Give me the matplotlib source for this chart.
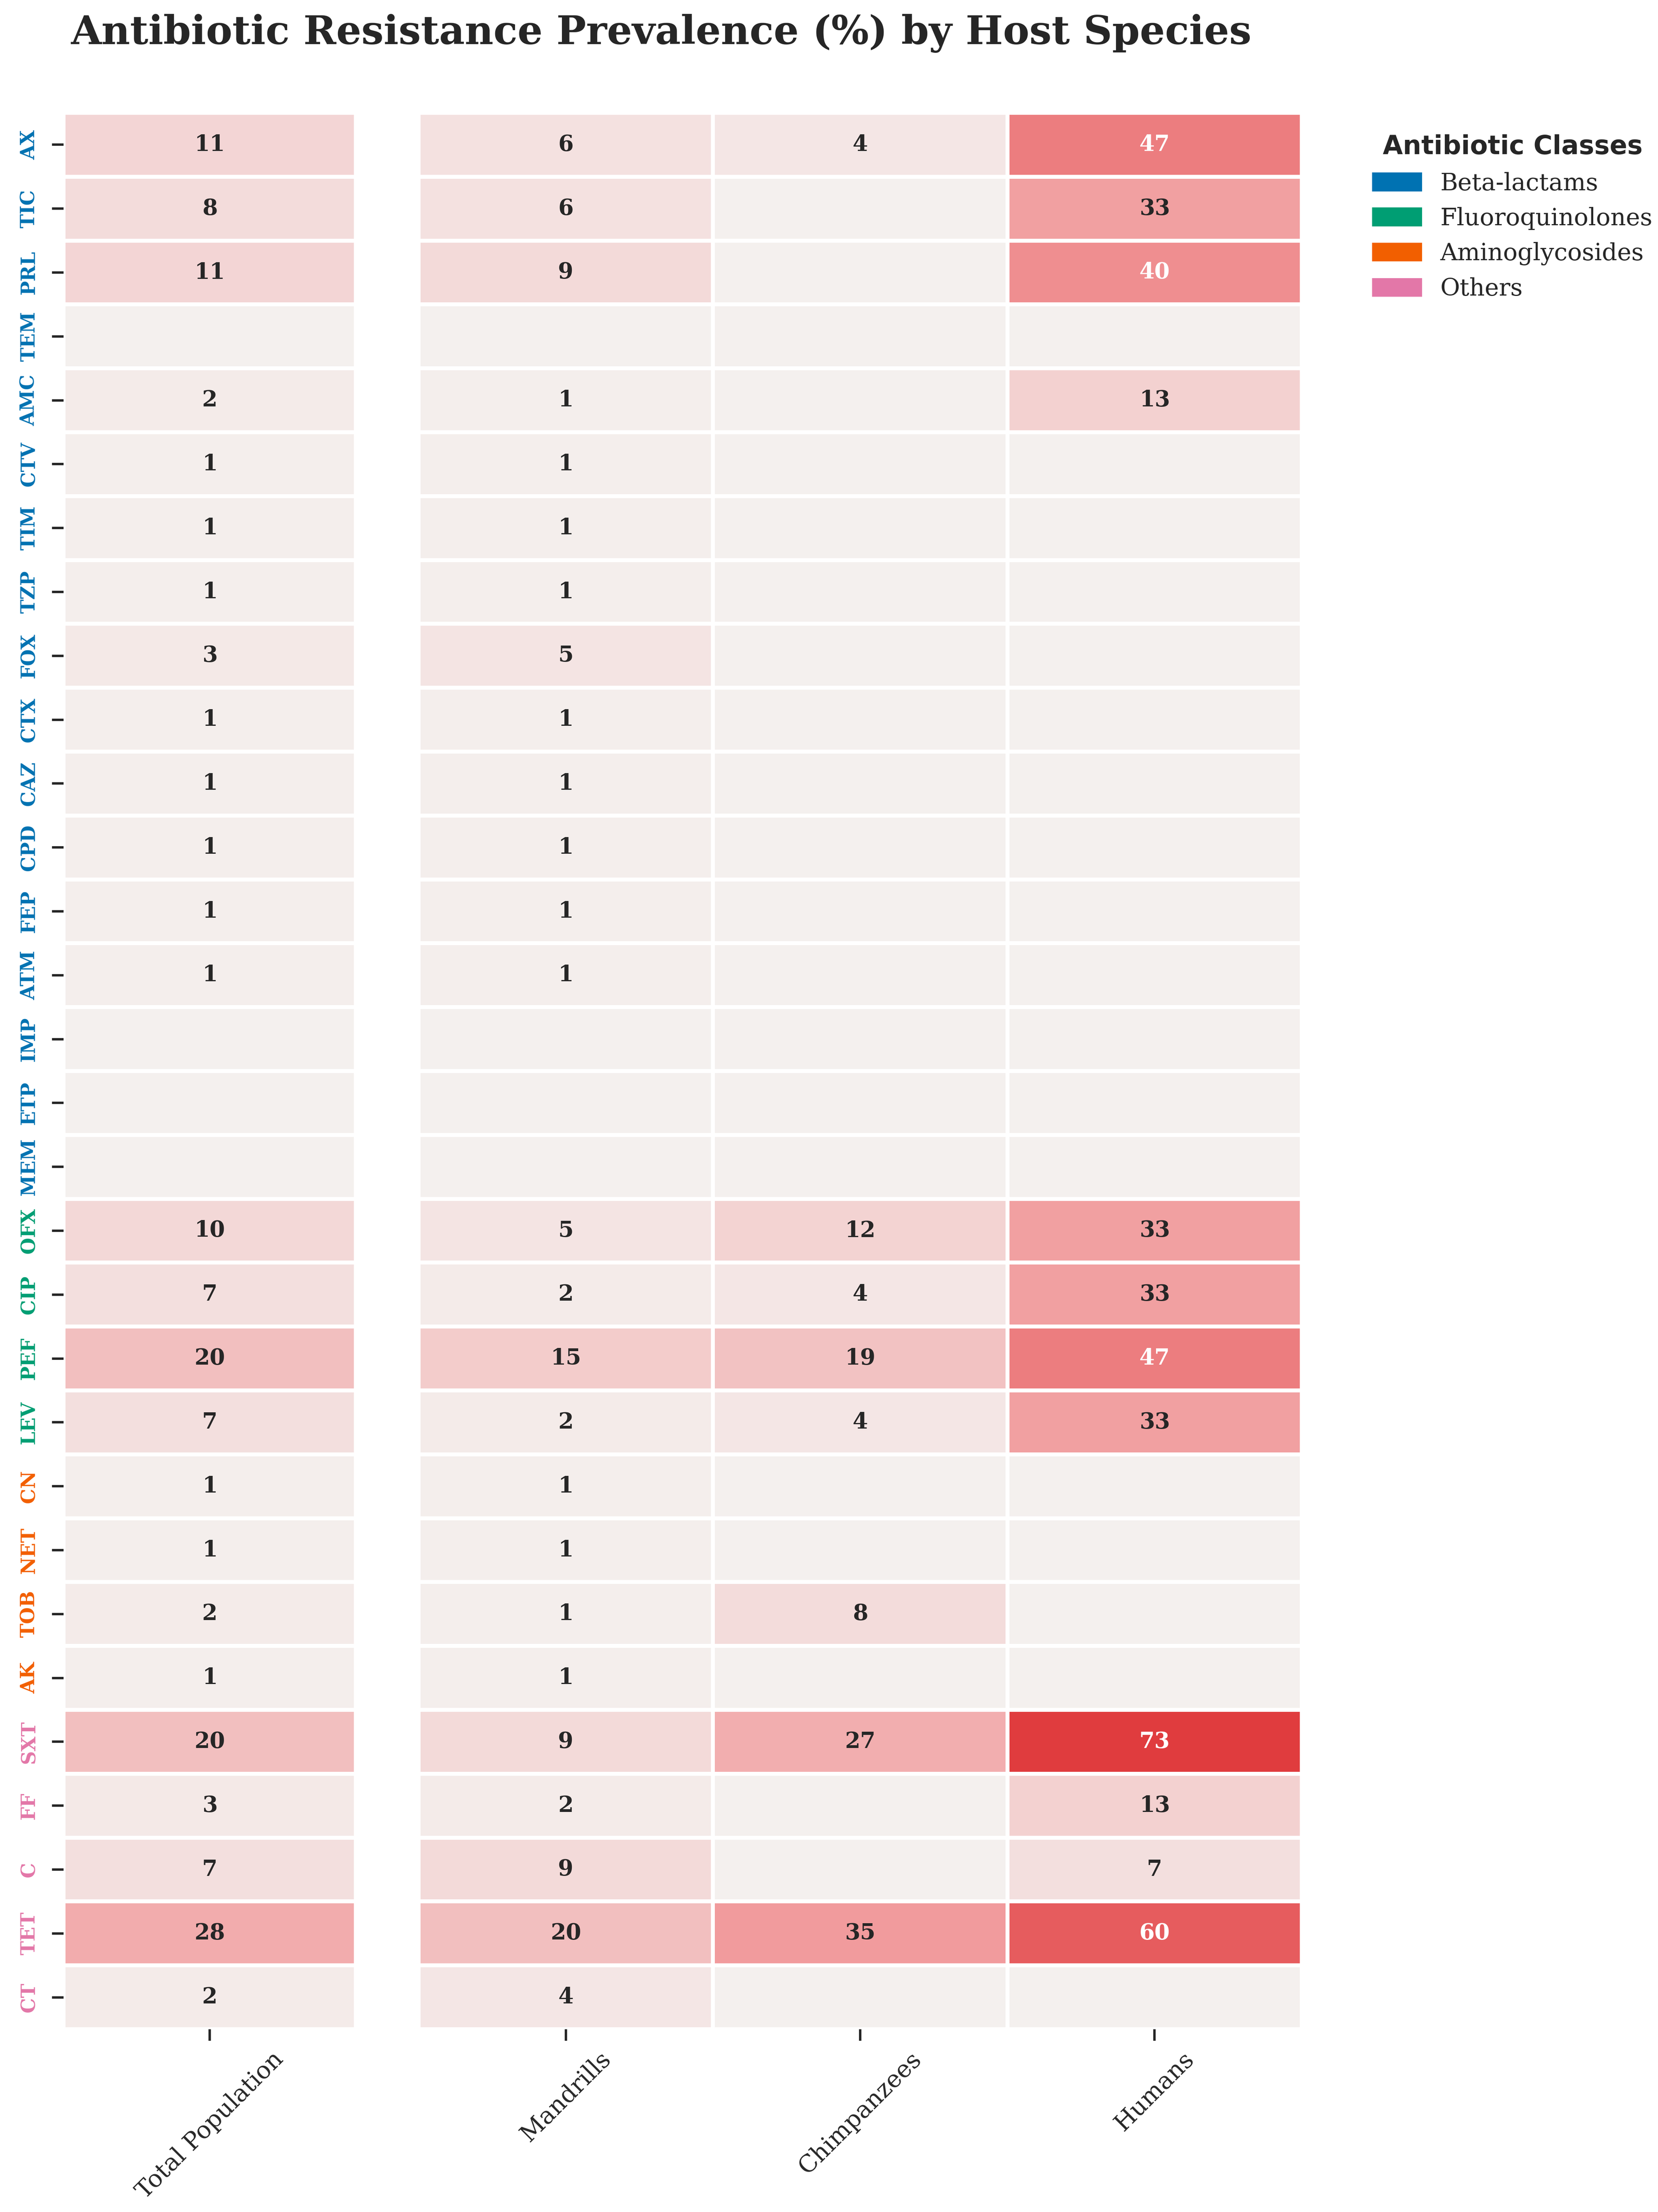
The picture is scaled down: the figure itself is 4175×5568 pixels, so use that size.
import numpy as np
import matplotlib
matplotlib.use("Agg")
import matplotlib.pyplot as plt
import matplotlib.patches as mpatches
from matplotlib.colors import LinearSegmentedColormap
import seaborn as sns

# Данные: антибиотики, классы и распространённость резистентности (%)
antibiotics = ["AX", "TIC", "PRL", "TEM", "AMC", "CTV", "TIM", "TZP", "FOX", "CTX",
               "CAZ", "CPD", "FEP", "ATM", "IMP", "ETP", "MEM",
               "OFX", "CIP", "PEF", "LEV",
               "CN", "NET", "TOB", "AK",
               "SXT", "FF", "C", "TET", "CT"]
drug_class = (["Beta-lactams"] * 17 + ["Fluoroquinolones"] * 4
              + ["Aminoglycosides"] * 4 + ["Others"] * 5)

total_population = [11, 8, 11, 0, 2, 1, 1, 1, 3, 1, 1, 1, 1, 1, 0, 0, 0,
                    10, 7, 20, 7, 1, 1, 2, 1, 20, 3, 7, 28, 2]
mandrills = [6, 6, 9, 0, 1, 1, 1, 1, 5, 1, 1, 1, 1, 1, 0, 0, 0,
             5, 2, 15, 2, 1, 1, 1, 1, 9, 2, 9, 20, 4]
chimpanzees = [4, 0, 0, 0, 0, 0, 0, 0, 0, 0, 0, 0, 0, 0, 0, 0, 0,
               12, 4, 19, 4, 0, 0, 8, 0, 27, 0, 0, 35, 0]
humans = [47, 33, 40, 0, 13, 0, 0, 0, 0, 0, 0, 0, 0, 0, 0, 0, 0,
          33, 33, 47, 33, 0, 0, 0, 0, 73, 13, 7, 60, 0]

species = ["Mandrills", "Chimpanzees", "Humans"]
class_names = ["Beta-lactams", "Fluoroquinolones", "Aminoglycosides", "Others"]
class_colors = ["#0072B2", "#009E73", "#F25F00", "#E377A8"]

sns.set_theme(style="ticks", context="notebook")
plt.rcParams["font.family"] = ["DejaVu Serif"]

total_arr = np.array(total_population, dtype=float).reshape(-1, 1)
species_arr = np.column_stack([mandrills, chimpanzees, humans]).astype(float)
vmax = max(total_arr.max(), species_arr.max())

cmap = LinearSegmentedColormap.from_list("resist", ["#F4F0EE", "#F19799", "#E03C3E"])

def labels_for(arr):
    # пустые ячейки для нулевых значений
    return np.where(arr > 0, arr.astype(int).astype(str), "")

W, H = 4175, 5568
fig = plt.figure(figsize=(W / 348, H / 348), dpi=348)

ax_tot = fig.add_axes([160 / W, 1 - 5108 / H, (896 - 160) / W, (5108 - 284) / H])
ax_sp = fig.add_axes([1054 / W, 1 - 5108 / H, (3278 - 1054) / W, (5108 - 284) / H])

annot_kws = dict(fontsize=11.5, fontweight="bold", family="DejaVu Serif")

sns.heatmap(total_arr, ax=ax_tot, cmap=cmap, vmin=0, vmax=vmax,
            annot=labels_for(total_arr), fmt="", annot_kws=annot_kws,
            linewidths=2, linecolor="white", cbar=False,
            xticklabels=["Total Population"], yticklabels=antibiotics)
sns.heatmap(species_arr, ax=ax_sp, cmap=cmap, vmin=0, vmax=vmax,
            annot=labels_for(species_arr), fmt="", annot_kws=annot_kws,
            linewidths=2, linecolor="white", cbar=False,
            xticklabels=species, yticklabels=False)

color_map = dict(zip(class_names, class_colors))
ax_tot.set_yticklabels(antibiotics, rotation=90, va="center",
                       fontsize=10, fontweight="bold")
for lbl, cls in zip(ax_tot.get_yticklabels(), drug_class):
    lbl.set_color(color_map[cls])

for ax in (ax_tot, ax_sp):
    ax.set_xticklabels(ax.get_xticklabels(), rotation=45, ha="center", fontsize=12.5)
    ax.tick_params(axis="both", length=6, width=1.25)
    ax.set_xlabel("")
    ax.set_ylabel("")
ax_tot.tick_params(axis="y", pad=7)
ax_sp.tick_params(axis="y", left=False)

handles = [mpatches.Patch(color=c, label=n) for n, c in zip(class_names, class_colors)]
leg = fig.legend(handles=handles, loc="upper left", bbox_to_anchor=(0.815, 0.949),
                 frameon=False, fontsize=12.5, title="Antibiotic Classes",
                 title_fontproperties=dict(family="DejaVu Sans", weight="bold", size=13.5))

fig.text(0.399, 0.985, "Antibiotic Resistance Prevalence (%) by Host Species",
         ha="center", va="center", fontsize=20.6, fontweight="bold", color="#262626")

fig.savefig("out.png", dpi=348, facecolor="white")
